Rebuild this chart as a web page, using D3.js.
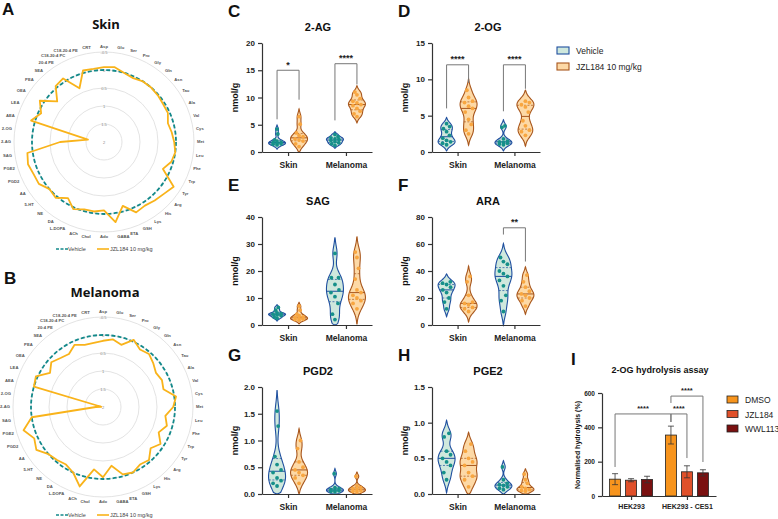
<!DOCTYPE html>
<meta charset="utf-8">
<style>
body { margin: 0; background: #fff; }
svg { font-family: "Liberation Sans", Arial, sans-serif; }
.letter { font-size: 17px; font-weight: bold; fill: #111; }
.ptitle { font-size: 11px; font-weight: bold; text-anchor: middle; fill: #111; }
.axis path, .axis line { stroke: #333; stroke-width: 1.2; }
.axis text { font-size: 8px; font-weight: bold; fill: #222; }
.ylab { font-size: 9px; font-weight: bold; text-anchor: middle; fill: #111; }
.rlab { font-size: 4.2px; font-weight: bold; fill: #555; }
.rtick { font-size: 4px; fill: #888; text-anchor: middle; }
.grid circle { fill: none; stroke: #dcdcdc; stroke-width: 0.8; }
.sig path { stroke: #777; fill: none; stroke-width: 1; }
.sig text { font-size: 9px; font-weight: bold; text-anchor: middle; fill: #222; }
.leg { font-size: 8.5px; fill: #222; }
</style>
<body>
<script src="https://cdn.jsdelivr.net/npm/d3@7/dist/d3.min.js"></script>
<script>

// ---------- data ----------
var radarCats = ["Asp","Glu","Ser","Pro","Gly","Gln","Asn","Tau","Ala","Val","Cys","Met","Leu","Phe","Trp","Tyr","Arg","His","Lys","GSH","ETA","GABA","Ado","Chol","ACh","L-DOPA","DA","NE","5-HT","AA","PGD2","PGE2","SAG","2-AG","2-OG","AEA","LEA","OEA","PEA","SEA","20:4 PE","C18-20:4 PC","C18-20:4 PE","CRT"];
var radarTicks = [2, 1.5, 1, 0.5, 0, -0.5];
var vehicleRef = 0;
// log fold change JZL184 vs vehicle
var skinJZL = [-0.08,-0.1,0.0,0.05,0.0,0.0,0.02,0.05,0.05,0.15,0.1,0.05,0.0,0.05,0.2,-0.3,-0.2,-0.15,-0.1,-0.15,0.15,-0.25,0.1,0.05,0.05,-0.05,0.15,-0.05,0.0,-0.15,-0.15,-0.2,-0.15,0.78,1.55,-0.11,0.08,-0.12,0.28,-0.05,-0.1,0.36,-0.07,-0.05];
var melJZL = [0.16,0.1,0.2,-0.05,0.1,0.05,0.15,0.25,0.2,0.25,-0.05,0.05,0.25,0.15,0.3,0.1,0.25,0.05,0.1,0.0,0.05,0.35,0.05,0.25,-0.3,0.0,0.1,0.05,0.0,-0.2,-0.1,-0.3,0.0,1.8,1.95,0.0,-0.05,0.25,0.1,0.2,0.25,0.1,0.2,0.2];

var tissues = ["Skin", "Melanoma"];
var treatments = ["Vehicle", "JZL184 10 mg/kg"];

// each: [skin vehicle, skin JZL, melanoma vehicle, melanoma JZL]
var data2AG = [
  [4.2,3.3,2.2,2.0,1.8,1.6,1.5,1.4,1.7,1.3],
  [6.5,5.1,3.5,3.0,2.8,2.4,2.2,2.0,1.5,1.0],
  [3.2,2.8,2.6,2.4,2.3,2.1,1.9,1.7,1.5,1.2],
  [11.0,10.5,9.8,9.3,9.0,8.7,8.5,8.0,7.5,7.0,6.5]
];
var data2OG = [
  [3.9,3.5,3.2,2.8,2.3,1.9,1.6,1.4,1.2,1.0],
  [8.5,7.5,7.0,6.8,6.3,6.0,5.5,4.5,3.8,3.0,2.5],
  [3.6,3.4,1.8,1.5,1.4,1.3,1.2,1.1,1.0],
  [7.0,6.8,6.5,6.2,5.5,4.3,3.6,3.0,2.8,2.3]
];
var dataSAG = [
  [6.5,5.5,4.5,4.2,4.0,3.8,3.5,3.0,2.5],
  [7.0,5.5,4.0,3.5,3.0,2.8,2.5,2.2,2.0,1.8],
  [26.5,17.5,17.5,15,13,12,10.5,8,4,2],
  [27,25,21,17,13,12,11,10,9,8,6]
];
var dataARA = [
  [32,31,30,28,26,24,20,17,12],
  [36,32,22,17,16,15,13,12,10],
  [50,47,45,40,38,36,33,29,22,18,10],
  [37,32,28,25,23,22,20,18,14]
];
var dataPGD2 = [
  [1.55,1.27,0.7,0.55,0.45,0.4,0.3,0.25,0.2,0.15],
  [1.0,0.85,0.6,0.5,0.45,0.4,0.35,0.3,0.2],
  [0.38,0.12,0.1,0.08,0.07,0.06,0.05,0.04],
  [0.33,0.15,0.12,0.1,0.08,0.06,0.05,0.04]
];
var dataPGE2 = [
  [0.85,0.8,0.6,0.55,0.5,0.45,0.4,0.3,0.2],
  [0.7,0.6,0.5,0.45,0.4,0.3,0.25,0.2,0.1],
  [0.38,0.2,0.15,0.13,0.12,0.1,0.08,0.06],
  [0.28,0.2,0.15,0.1,0.08,0.06,0.05,0.04]
];
// significance: [tissue index, bracket top, left leg end, right leg end, label]
var sig2AG = [[0, 15, 6, 9.6, "*"], [1, 16.2, 5.8, 12.4, "****"]];
var sig2OG = [[0, 12, 6, 9.5, "****"], [1, 12, 5.6, 8.7, "****"]];
var sigARA = [[1, 72, 67, 47, "**"]];

var cellLines = ["HEK293", "HEK293 - CES1"];
var inhibitors = ["DMSO", "JZL184", "WWL113"];
var hydroMean = [[98, 92, 96], [355, 141, 135]];
var hydroErr = [[32, 9, 19], [52, 35, 18]];
var hydroTicks = [0, 200, 400, 600];
// [from bar, to bar, top, left end, right end, label]
var sigI = [
  [[0, 0], [1, 0], 478, 169, 431, "****"],
  [[1, 0], [1, 1], 478, 431, 221, "****"],
  [[1, 0], [1, 2], 582, 542, 198, "****"]
];

// ---------- colours ----------
var vehLine = "#1f4f9f", vehFill = "#cfe8dd", vehDot = "#16908a";
var jzlLine = "#a8561c", jzlFill = "#fdd9a6", jzlDot = "#f8a640";
var radarTeal = "#13898a", radarOrange = "#f9b31a";
var barCols = ["#f7941d", "#e0502a", "#7a1010"];

var svg = d3.select("body").append("svg")
    .attr("width", 778)
    .attr("height", 519);

// ---------- radar charts ----------
function radar(cx, cy, title, titleY, vals, legY) {
  var r = d3.scaleLinear().domain([2, -0.5]).range([0, 90]);
  var ang = function(i) { return i * 2 * Math.PI / radarCats.length; };
  var g = svg.append("g").attr("transform", "translate(" + cx + "," + cy + ")");

  svg.append("text").attr("class", "ptitle")
    .attr("x", cx + 2).attr("y", titleY)
    .style("font-size", "13px")
    .style("font-family", "'Open Sans', sans-serif")
    .text(title);

  g.append("g").attr("class", "grid").selectAll("circle")
    .data(radarTicks.slice(1))
    .enter().append("circle")
    .attr("r", function(d) { return r(d); });

  g.selectAll(".rtick").data(radarTicks)
    .enter().append("text").attr("class", "rtick")
    .attr("x", 0).attr("y", function(d) { return -r(d) + 1.5; })
    .text(function(d) { return d; });

  // vehicle reference
  g.append("circle")
    .attr("r", r(vehicleRef))
    .attr("fill", "none")
    .attr("stroke", radarTeal)
    .attr("stroke-width", 1.8)
    .attr("stroke-dasharray", "4,2.2");

  var line = d3.lineRadial()
    .angle(function(d, i) { return ang(i); })
    .radius(function(d) { return r(d); })
    .curve(d3.curveLinearClosed);
  g.append("path").datum(vals)
    .attr("d", line)
    .attr("fill", "none")
    .attr("stroke", radarOrange)
    .attr("stroke-width", 1.8)
    .attr("stroke-linejoin", "round");

  g.selectAll(".rlab").data(radarCats)
    .enter().append("text").attr("class", "rlab")
    .attr("x", function(d, i) { return 93 * Math.sin(ang(i)); })
    .attr("y", function(d, i) { return -95 * Math.cos(ang(i)); })
    .attr("dy", "0.35em")
    .attr("text-anchor", function(d, i) {
      var s = Math.sin(ang(i));
      return s > 0.08 ? "start" : (s < -0.08 ? "end" : "middle");
    })
    .text(function(d) { return d; });

  // legend
  var lg = svg.append("g").attr("transform", "translate(0," + legY + ")");
  lg.append("line").attr("x1", 56).attr("x2", 68).attr("y1", 0).attr("y2", 0)
    .attr("stroke", radarTeal).attr("stroke-width", 1.6).attr("stroke-dasharray", "3,1.5");
  lg.append("text").attr("x", 68).attr("y", 2).style("font-size", "5.5px").attr("fill", "#444").text("Vehicle");
  lg.append("line").attr("x1", 97).attr("x2", 109).attr("y1", 0).attr("y2", 0)
    .attr("stroke", radarOrange).attr("stroke-width", 1.6);
  lg.append("text").attr("x", 110).attr("y", 2).style("font-size", "5.5px").attr("fill", "#444").text("JZL184  10 mg/kg");
}

radar(104, 142, "Skin", 29, skinJZL, 249);
radar(103, 407, "Melanoma", 297, melJZL, 515);

svg.append("text").attr("class", "letter").attr("x", 2).attr("y", 15).text("A");
svg.append("text").attr("class", "letter").attr("x", 4).attr("y", 284).text("B");

// ---------- violin panels ----------
function violinPanel(o) {
  var y = d3.scaleLinear().domain(o.domain).range([o.yBot, o.yTop]);
  var xg = d3.scalePoint().domain(tissues).range([o.x0, o.x1]).padding(0.45);
  var xs = d3.scalePoint().domain(treatments).range([-11, 11]);
  var g = svg.append("g");

  svg.append("text").attr("class", "letter").attr("x", o.x0 - 34).attr("y", o.yTop - 26).text(o.letter);
  svg.append("text").attr("class", "ptitle").attr("x", o.x0 + 56).attr("y", o.yTop - 12).text(o.title);
  svg.append("text").attr("class", "ylab")
    .attr("transform", "translate(" + (o.x0 - 24) + "," + ((o.yTop + o.yBot) / 2) + ") rotate(-90)")
    .text(o.ylab);

  o.data.forEach(function(vals, k) {
    var isVeh = k % 2 === 0;
    var cx = xg(tissues[k >> 1]) + xs(treatments[k % 2]);
    var s = vals.slice().sort(d3.ascending);
    var n = s.length;
    var bw = 0.6 * d3.deviation(s) * Math.pow(n, -0.2);
    var dens = function(v) {
      return d3.mean(s, function(d) { return Math.exp(-0.5 * Math.pow((v - d) / bw, 2)); });
    };
    var lo = Math.max(o.domain[0], s[0] - 2.2 * bw), hi = s[n - 1] + 2.2 * bw;
    var pts = d3.range(81).map(function(i) { var v = lo + (hi - lo) * i / 80; return [v, dens(v)]; });
    pts[0][1] = 0; pts[80][1] = 0;
    var w = d3.scaleLinear().domain([0, d3.max(pts, function(d) { return d[1]; })]).range([0, 8.5]);

    var area = d3.area()
      .y(function(d) { return y(d[0]); })
      .x0(function(d) { return cx - w(d[1]); })
      .x1(function(d) { return cx + w(d[1]); })
      .curve(d3.curveBasis);
    g.append("path").datum(pts).attr("d", area)
      .attr("fill", isVeh ? vehFill : jzlFill)
      .attr("stroke", isVeh ? vehLine : jzlLine)
      .attr("stroke-width", 1.1);

    [0.25, 0.5, 0.75].forEach(function(q) {
      var v = d3.quantile(s, q), hw = w(dens(v));
      g.append("line")
        .attr("x1", cx - hw).attr("x2", cx + hw)
        .attr("y1", y(v)).attr("y2", y(v))
        .attr("stroke", isVeh ? vehLine : jzlLine)
        .attr("stroke-width", q === 0.5 ? 1 : 0.7)
        .attr("stroke-dasharray", q === 0.5 ? null : "2,1.5");
    });

    g.selectAll(null).data(s).enter().append("circle")
      .attr("cx", function(d, i) { return cx + [0, -1, 1][i % 3] * Math.min(4, w(dens(d)) * 0.55); })
      .attr("cy", function(d) { return y(d); })
      .attr("r", 1.9)
      .attr("fill", isVeh ? vehDot : jzlDot);
  });

  (o.sig || []).forEach(function(b) {
    var xl = xg(tissues[b[0]]) + xs(treatments[0]), xr = xg(tissues[b[0]]) + xs(treatments[1]);
    var sg = g.append("g").attr("class", "sig");
    sg.append("path").attr("d", "M" + xl + "," + y(b[2]) + "V" + y(b[1]) + "H" + xr + "V" + y(b[3]));
    sg.append("text").attr("x", (xl + xr) / 2).attr("y", y(b[1]) - 2.5).text(b[4]);
  });

  g.append("g").attr("class", "axis")
    .attr("transform", "translate(" + o.x0 + ",0)")
    .call(d3.axisLeft(y).tickValues(o.ticks).tickFormat(o.fmt).tickSize(4).tickSizeOuter(0));
  g.append("g").attr("class", "axis")
    .attr("transform", "translate(0," + o.yBot + ")")
    .call(d3.axisBottom(xg).tickSize(4).tickSizeOuter(0))
    .selectAll("text").style("font-size", "8.5px").attr("dy", "1em");
}

var fInt = d3.format("d"), f1 = d3.format(".1f");
violinPanel({letter: "C", title: "2-AG", ylab: "nmol/g", x0: 262, x1: 372, yTop: 43, yBot: 152,
  domain: [0, 20], ticks: [0, 5, 10, 15, 20], fmt: fInt, data: data2AG, sig: sig2AG});
violinPanel({letter: "D", title: "2-OG", ylab: "nmol/g", x0: 432, x1: 540, yTop: 43, yBot: 152,
  domain: [0, 15], ticks: [0, 5, 10, 15], fmt: fInt, data: data2OG, sig: sig2OG});
violinPanel({letter: "E", title: "SAG", ylab: "nmol/g", x0: 262, x1: 372, yTop: 217, yBot: 325,
  domain: [0, 40], ticks: [0, 10, 20, 30, 40], fmt: fInt, data: dataSAG});
violinPanel({letter: "F", title: "ARA", ylab: "pmol/g", x0: 432, x1: 540, yTop: 217, yBot: 325,
  domain: [0, 80], ticks: [0, 20, 40, 60, 80], fmt: fInt, data: dataARA, sig: sigARA});
violinPanel({letter: "G", title: "PGD2", ylab: "nmol/g", x0: 262, x1: 372, yTop: 387, yBot: 494,
  domain: [0, 2], ticks: [0, 0.5, 1, 1.5, 2], fmt: f1, data: dataPGD2});
violinPanel({letter: "H", title: "PGE2", ylab: "nmol/g", x0: 432, x1: 540, yTop: 387, yBot: 494,
  domain: [0, 1.5], ticks: [0, 0.5, 1, 1.5], fmt: f1, data: dataPGE2});

// legend for C-H
var vl = svg.append("g").attr("transform", "translate(557,47)");
treatments.forEach(function(t, i) {
  vl.append("rect").attr("x", 0).attr("y", i * 16).attr("width", 12).attr("height", 7)
    .attr("fill", i ? jzlFill : vehFill).attr("stroke", i ? jzlLine : vehLine).attr("stroke-width", 1.1);
  vl.append("text").attr("class", "leg").attr("x", 19).attr("y", i * 16 + 7).text(t);
});

// ---------- panel I: bar chart ----------
var yI = d3.scaleLinear().domain([0, 600]).range([496, 393]);
var xI = d3.scalePoint().domain(cellLines).range([602, 716]).padding(0.52);
var xIn = d3.scalePoint().domain(inhibitors).range([-16, 16]);
var gI = svg.append("g");

svg.append("text").attr("class", "letter").attr("x", 571).attr("y", 365).text("I");
svg.append("text").attr("class", "ptitle").attr("x", 660).attr("y", 373).style("font-size", "9px").text("2-OG hydrolysis assay");
svg.append("text").attr("class", "ylab").style("font-size", "7px")
  .attr("transform", "translate(580,445) rotate(-90)")
  .text("Normalised hydrolysis (%)");

cellLines.forEach(function(c, ci) {
  inhibitors.forEach(function(inh, ii) {
    var bx = xI(c) + xIn(inh), m = hydroMean[ci][ii], e = hydroErr[ci][ii];
    gI.append("rect")
      .attr("x", bx - 5.5).attr("width", 11)
      .attr("y", yI(m)).attr("height", yI(0) - yI(m))
      .attr("fill", barCols[ii]).attr("stroke", "#222").attr("stroke-width", 0.8);
    gI.append("path")
      .attr("d", "M" + bx + "," + yI(m - e) + "V" + yI(m + e) +
        "M" + (bx - 3) + "," + yI(m + e) + "H" + (bx + 3) +
        "M" + (bx - 3) + "," + yI(m - e) + "H" + (bx + 3))
      .attr("stroke", "#333").attr("stroke-width", 0.8).attr("fill", "none");
  });
});

function barX(ci, ii) { return xI(cellLines[ci]) + xIn(inhibitors[ii]); }
sigI.forEach(function(b) {
  var xl = barX(b[0][0], b[0][1]), xr = barX(b[1][0], b[1][1]);
  var sg = gI.append("g").attr("class", "sig");
  sg.append("path").attr("d", "M" + xl + "," + yI(b[3]) + "V" + yI(b[2]) + "H" + xr + "V" + yI(b[4]));
  sg.append("text").attr("x", (xl + xr) / 2).attr("y", yI(b[2]) - 3).style("font-size", "7.5px").text(b[5]);
});

gI.append("g").attr("class", "axis")
  .attr("transform", "translate(602,0)")
  .call(d3.axisLeft(yI).tickValues(hydroTicks).tickSize(4).tickSizeOuter(0))
  .selectAll("text").style("font-size", "6.5px");
gI.append("g").attr("class", "axis")
  .attr("transform", "translate(0,496)")
  .call(d3.axisBottom(xI).tickSize(4).tickSizeOuter(0))
  .selectAll("text").style("font-size", "7px").attr("dy", "0.9em");

var il = svg.append("g").attr("transform", "translate(727,396)");
inhibitors.forEach(function(t, i) {
  il.append("rect").attr("x", 0).attr("y", i * 14.5).attr("width", 11).attr("height", 7)
    .attr("fill", barCols[i]).attr("stroke", "#222").attr("stroke-width", 0.8);
  il.append("text").attr("class", "leg").attr("x", 18).attr("y", i * 14.5 + 7).text(t);
});

</script>
</body>
